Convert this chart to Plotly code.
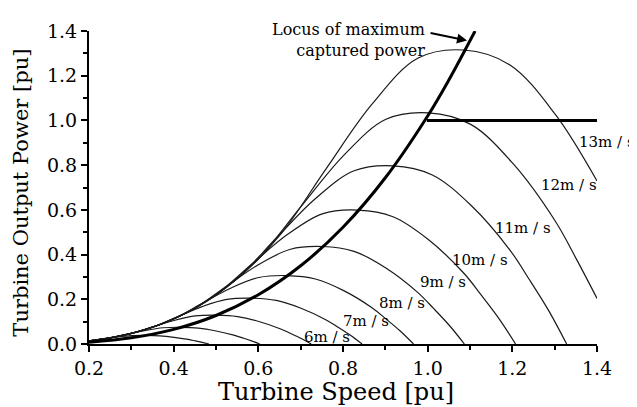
import plotly.graph_objects as go

# Wind-speed curves (turbine speed [pu] -> output power [pu])
speeds = [4, 5, 6, 7, 8, 9, 10, 11, 12, 13]
label_text = ["6m / s", "7m / s", "8m / s", "9m / s", "10m / s", "11m / s", "12m / s", "13m / s"]
label_x = [0.762, 0.854, 0.939, 1.036, 1.124, 1.225, 1.334, 1.424]
label_y = [0.030, 0.104, 0.182, 0.277, 0.377, 0.520, 0.711, 0.902]

x_13 = [0.2, 0.3255, 0.434, 0.5425, 0.651, 0.7595, 0.868, 0.9765, 1.085, 1.1935, 1.302, 1.4]
y_13 = [0.014, 0.0605, 0.1433, 0.280, 0.4866, 0.7824, 1.0717, 1.2782, 1.315, 1.2493, 1.0257, 0.729]

x_12 = [0.2, 0.3005, 0.4006, 0.5008, 0.6009, 0.7011, 0.8012, 0.9014, 1.0015, 1.1017, 1.2018, 1.302, 1.352, 1.4]
y_12 = [0.014, 0.0476, 0.1127, 0.2202, 0.3826, 0.6152, 0.8427, 1.0051, 1.034, 0.9823, 0.8065, 0.548, 0.3774, 0.204]

x_11 = [0.2, 0.2754, 0.3672, 0.459, 0.5508, 0.6426, 0.7344, 0.8262, 0.918, 1.0098, 1.1016, 1.1934, 1.2393, 1.2852, 1.3283]
y_11 = [0.014, 0.0367, 0.0869, 0.1698, 0.2949, 0.4742, 0.6496, 0.7747, 0.797, 0.7572, 0.6217, 0.4224, 0.2909, 0.1514, 0.0]

x_10 = [0.2, 0.2504, 0.3338, 0.4173, 0.5008, 0.5842, 0.6677, 0.7511, 0.8346, 0.9181, 1.0015, 1.085, 1.1267, 1.1684, 1.2077]
y_10 = [0.014, 0.0276, 0.0653, 0.1276, 0.2216, 0.3564, 0.4882, 0.5822, 0.599, 0.5691, 0.4672, 0.3175, 0.2186, 0.1138, 0.0]

x_9 = [0.2, 0.2253, 0.3004, 0.3755, 0.4506, 0.5257, 0.6008, 0.6759, 0.751, 0.8261, 0.9012, 0.9763, 1.0139, 1.0514, 1.0867]
y_9 = [0.014, 0.0201, 0.0475, 0.0929, 0.1613, 0.2594, 0.3553, 0.4238, 0.436, 0.4142, 0.3401, 0.2311, 0.1591, 0.0828, 0.0]

x_8 = [0.2, 0.2672, 0.334, 0.4008, 0.4676, 0.5344, 0.6012, 0.668, 0.7348, 0.8016, 0.8684, 0.9018, 0.9352, 0.9666]
y_8 = [0.014, 0.0334, 0.0652, 0.1132, 0.1821, 0.2494, 0.2974, 0.306, 0.2907, 0.2387, 0.1622, 0.1117, 0.0581, 0.0]

x_7 = [0.2, 0.2336, 0.292, 0.3504, 0.4088, 0.4672, 0.5256, 0.584, 0.6424, 0.7008, 0.7592, 0.7884, 0.8176, 0.845]
y_7 = [0.014, 0.0223, 0.0437, 0.0759, 0.122, 0.1671, 0.1993, 0.205, 0.1948, 0.1599, 0.1087, 0.0748, 0.039, 0.0]

x_6 = [0.2, 0.2505, 0.3006, 0.3507, 0.4008, 0.4509, 0.501, 0.5511, 0.6012, 0.6513, 0.6764, 0.7014, 0.725]
y_6 = [0.014, 0.0275, 0.0477, 0.0768, 0.1051, 0.1254, 0.129, 0.1226, 0.1006, 0.0684, 0.0471, 0.0245, 0.0]

x_5 = [0.2, 0.2502, 0.2919, 0.3336, 0.3753, 0.417, 0.4587, 0.5004, 0.5421, 0.563, 0.5838, 0.6034]
y_5 = [0.0142, 0.0277, 0.0445, 0.061, 0.0727, 0.0748, 0.0711, 0.0583, 0.0396, 0.0273, 0.0142, 0.0]

x_4 = [0.2, 0.2338, 0.2672, 0.3006, 0.334, 0.3674, 0.4008, 0.4342, 0.4509, 0.4676, 0.4833]
y_4 = [0.0142, 0.0228, 0.0312, 0.0372, 0.0383, 0.0364, 0.0299, 0.0203, 0.014, 0.0073, 0.0]

# Locus of maximum captured power
locus_x = [0.2, 0.3, 0.4, 0.5, 0.6, 0.7, 0.8, 0.9, 1.0, 1.05, 1.112]
locus_y = [0.0082, 0.0275, 0.0653, 0.1275, 0.2203, 0.3499, 0.5222, 0.7436, 1.02, 1.1807, 1.4]

# Rated power limit
limit_x = [0.998, 1.4]
limit_y = [1.0, 1.0]

x_ticks = [0.2, 0.4, 0.6, 0.8, 1.0, 1.2, 1.4]
y_ticks = [0.0, 0.2, 0.4, 0.6, 0.8, 1.0, 1.2, 1.4]

FONT = "DejaVu Serif"
X0, X1, Y0, Y1 = 0.2, 1.4, 0.0, 1.4

curves = [(x_4, y_4), (x_5, y_5), (x_6, y_6), (x_7, y_7), (x_8, y_8),
          (x_9, y_9), (x_10, y_10), (x_11, y_11), (x_12, y_12), (x_13, y_13)]

fig = go.Figure()
for sp, (xs, ys) in zip(speeds, curves):
    fig.add_trace(go.Scatter(x=xs, y=ys, mode="lines", name=f"{sp} m/s",
                             line=dict(color="#1a1a1a", width=1.2, shape="spline", smoothing=1.0),
                             showlegend=False))

fig.add_trace(go.Scatter(x=locus_x, y=locus_y, mode="lines",
                         line=dict(color="black", width=3, shape="spline", smoothing=1.0),
                         showlegend=False, cliponaxis=False))
fig.add_trace(go.Scatter(x=limit_x, y=limit_y, mode="lines",
                         line=dict(color="black", width=3), showlegend=False, cliponaxis=False))

# speed labels placed in paper coordinates (some lie outside the x range)
for t, lx, ly in zip(label_text, label_x, label_y):
    fig.add_annotation(xref="paper", yref="paper",
                       x=(lx - X0) / (X1 - X0), y=(ly - Y0) / (Y1 - Y0),
                       xanchor="center", yanchor="middle", text=t, showarrow=False,
                       font=dict(family=FONT, size=15, color="black"))

# Locus annotation
fig.add_annotation(x=0.998, y=1.362, xanchor="right", yanchor="middle", align="right",
                   text="Locus of maximum<br>captured power", showarrow=False,
                   font=dict(family=FONT, size=16, color="black"))
fig.add_annotation(x=1.093, y=1.357, ax=-38, ay=-8, text="", showarrow=True,
                   arrowhead=2, arrowsize=1, arrowwidth=2, arrowcolor="black")

# Axis titles
fig.add_annotation(xref="paper", yref="paper", x=-0.133, y=0.485, xanchor="center", yanchor="middle",
                   text="Turbine Output Power [pu]", textangle=-90, showarrow=False,
                   font=dict(family=FONT, size=21, color="black"))
fig.add_annotation(xref="paper", yref="paper", x=0.487, y=-0.153, xanchor="center", yanchor="middle",
                   text="Turbine Speed [pu]", showarrow=False,
                   font=dict(family=FONT, size=24, color="black"))

axis_common = dict(showgrid=False, zeroline=False, showline=True, linecolor="black", linewidth=2,
                   ticks="outside", ticklen=6, tickwidth=2, tickcolor="black",
                   tickfont=dict(family=FONT, size=19, color="black"),
                   minor=dict(ticks="outside", ticklen=4, tickwidth=2, tickcolor="black", dtick=0.1))

fig.update_xaxes(range=[X0, X1], tickvals=x_ticks, ticktext=[f"{v:.1f}" for v in x_ticks], **axis_common)
fig.update_yaxes(range=[Y0, Y1], tickvals=y_ticks, ticktext=[f"{v:.1f}" for v in y_ticks], **axis_common)

# page body adds an 8px offset; size the figure so the plot area lands where the reference's does
fig.update_layout(width=629, height=399, margin=dict(l=81, r=40, t=13, b=63),
                  plot_bgcolor="white", paper_bgcolor="white", showlegend=False)

fig.write_html("out.html")
